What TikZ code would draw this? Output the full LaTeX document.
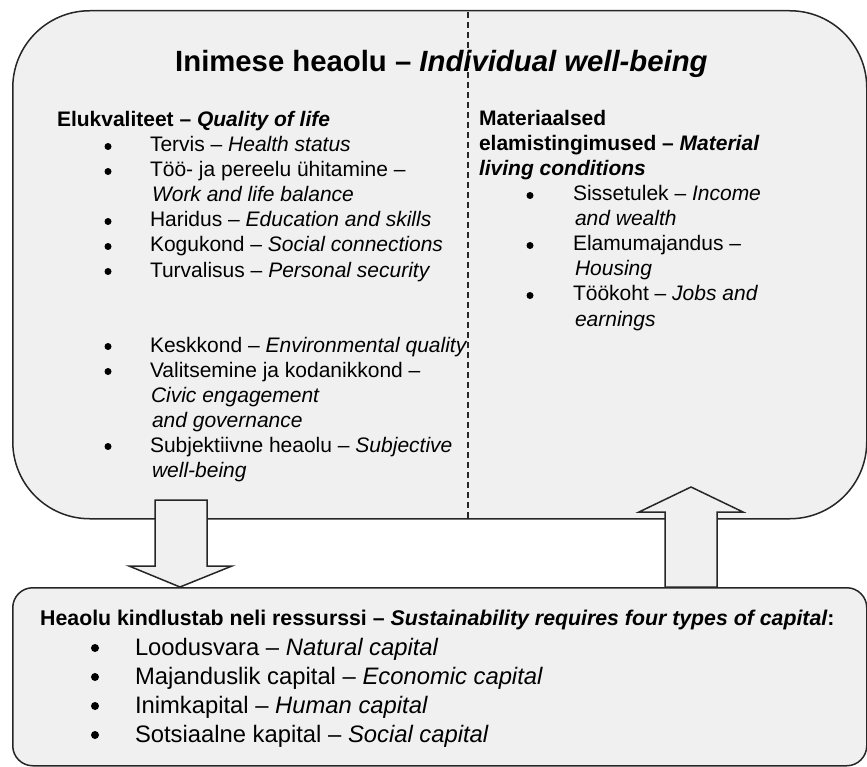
\documentclass[tikz,border=0pt]{standalone}
\usepackage{fontspec}
\setmainfont{Liberation Sans}
\definecolor{panelc}{HTML}{F0F0F0}
\definecolor{linec}{HTML}{262626}
\newcommand\fbody{\fontsize{21}{24}\selectfont}
\newcommand\ftitle{\fontsize{29.3}{33}\selectfont}
\newcommand\fhead{\fontsize{21.3}{25}\selectfont}
\newcommand\fitem{\fontsize{23.8}{28}\selectfont}
\tikzset{
  panel/.style={draw=linec, fill=panelc, line width=1.5pt},
  blockarrow/.style={draw=linec, fill=panelc, line width=1.5pt, line join=miter},
  divider/.style={draw=linec, line width=1.4pt, dash pattern=on 6pt off 4pt, dash phase=-12pt},
  txt/.style={anchor=base west, inner sep=0pt, outer sep=0pt, font=\fbody},
  itemtxt/.style={anchor=base west, inner sep=0pt, outer sep=0pt, font=\fitem},
  bul/.style={circle, fill=black, draw=none, inner sep=0pt, minimum size=7pt},
  bigbul/.style={circle, fill=black, draw=none, inner sep=0pt, minimum size=8pt}
}
\begin{document}
\begin{tikzpicture}[x=1pt, y=-1pt]
\useasboundingbox (0,0) rectangle (867,767);
% boxes
\node[panel, rounded corners=77pt, minimum width=854pt, minimum height=508pt, anchor=north west, inner sep=0pt] (wb) at (12,10) {};
\node[panel, rounded corners=20pt, minimum width=854pt, minimum height=178pt, anchor=north west, inner sep=0pt] (cap) at (12,587) {};
% divider
\coordinate (dtop) at (468,10);
\coordinate (dbot) at (468,518);
\draw[divider] (dtop) -- (dbot);
% block arrows
\coordinate (dn) at (180,587);
\draw[blockarrow] (155,500) -- (207,500) -- (207,566) -- (232,566) -- (dn) -- (129,566) -- (155,566) -- cycle;
\coordinate (up) at (691,487);
\draw[blockarrow] (665,587) -- (665,512) -- (639,512) -- (up) -- (743,512) -- (717,512) -- (717,587) -- cycle;
% title
\node[anchor=base west, inner sep=0pt, font=\ftitle] (title) at (175,72) {\bfseries Inimese heaolu – \itshape Individual well-being};
% left column
\node[txt] (ql) at (57,127) {\bfseries Elukvaliteet – \itshape Quality of life};
\node[bul] (lb1) at (108,146.5) {};
\node[txt] (l1) at (150,152) {Tervis – \textit{Health status}};
\node[bul] (lb2) at (108,171.5) {};
\node[txt] (l2) at (150,177) {Töö- ja pereelu ühitamine –};
\node[txt] (l2b) at (152,202) {\itshape Work and life balance};
\node[bul] (lb3) at (108,221.5) {};
\node[txt] (l3) at (150,227) {Haridus – \textit{Education and skills}};
\node[bul] (lb4) at (108,246.5) {};
\node[txt] (l4) at (150,252) {Kogukond – \textit{Social connections}};
\node[bul] (lb5) at (108,271.5) {};
\node[txt] (l5) at (150,277) {Turvalisus – \textit{Personal security}};
\node[bul] (lb6) at (108,346.5) {};
\node[txt] (l6) at (150,352) {Keskkond – \textit{Environmental quality}};
\node[bul] (lb7) at (108,371.5) {};
\node[txt] (l7) at (150,377) {Valitsemine ja kodanikkond –};
\node[txt] (l7b) at (151,402) {\itshape Civic engagement};
\node[txt] (l7c) at (152,427) {\itshape and governance};
\node[bul] (lb8) at (108,446.5) {};
\node[txt] (l8) at (150,452) {Subjektiivne heaolu – \textit{Subjective}};
\node[txt] (l8b) at (152,477) {\itshape well-being};
% right column
\node[txt] (mh1) at (479,126) {\bfseries Materiaalsed};
\node[txt] (mh2) at (479,151) {\bfseries elamistingimused – \itshape Material};
\node[txt] (mh3) at (479,176) {\bfseries\itshape living conditions};
\node[bul] (rb1) at (530,195.5) {};
\node[txt] (r1) at (573,201) {Sissetulek – \textit{Income}};
\node[txt] (r1b) at (575,226) {\itshape and wealth};
\node[bul] (rb2) at (530,245.5) {};
\node[txt] (r2) at (573,251) {Elamumajandus –};
\node[txt] (r2b) at (575,276) {\itshape Housing};
\node[bul] (rb3) at (530,295.5) {};
\node[txt] (r3) at (573,301) {Töökoht – \textit{Jobs and}};
\node[txt] (r3b) at (575,326) {\itshape earnings};
% bottom box
\node[anchor=base west, inner sep=0pt, font=\fhead] (ch) at (40,625) {\bfseries Heaolu kindlustab neli ressurssi – \itshape Sustainability requires four types of capital\upshape:};
\node[bigbul] (cb1) at (95,648) {};
\node[itemtxt] (c1) at (135,655) {Loodusvara – \textit{Natural capital}};
\node[bigbul] (cb2) at (95,677) {};
\node[itemtxt] (c2) at (135,684) {Majanduslik capital – \textit{Economic capital}};
\node[bigbul] (cb3) at (95,706) {};
\node[itemtxt] (c3) at (135,713) {Inimkapital – \textit{Human capital}};
\node[bigbul] (cb4) at (95,735) {};
\node[itemtxt] (c4) at (135,742) {Sotsiaalne kapital – \textit{Social capital}};
\end{tikzpicture}
\end{document}
